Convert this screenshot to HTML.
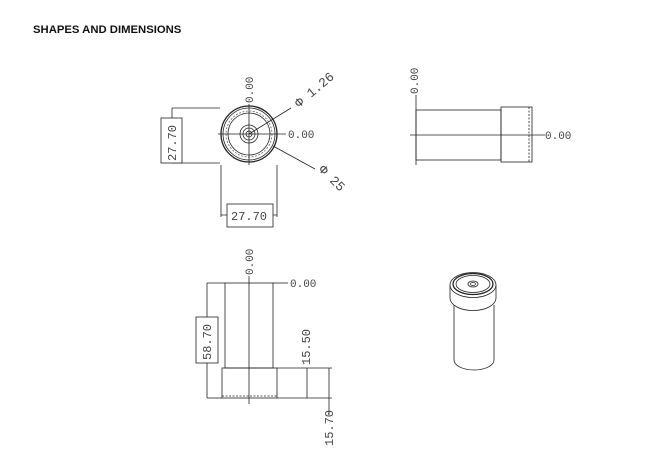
<!DOCTYPE html>
<html><head><meta charset="utf-8"><style>
html,body{margin:0;padding:0;background:#fff;width:653px;height:458px;overflow:hidden}
svg{position:absolute;left:0;top:0}
.t{font-family:"Liberation Mono","DejaVu Sans Mono",monospace;font-size:11px;fill:#444}
</style></head><body>
<svg width="653" height="458" viewBox="0 0 653 458" xmlns="http://www.w3.org/2000/svg">
<text x="33" y="33" font-family="Liberation Sans, sans-serif" font-weight="bold" font-size="11.3" fill="#111">SHAPES AND DIMENSIONS</text>
<g stroke="#222" fill="none" stroke-width="0.8">
<!-- top view -->
<circle cx="249" cy="134" r="28" stroke-width="1.3"/>
<circle cx="249" cy="134" r="26"/>
<circle cx="249" cy="134" r="23" stroke-dasharray="2 1.5" stroke="#666"/>
<circle cx="249" cy="134" r="21"/>
<circle cx="249" cy="134" r="9"/>
<circle cx="249" cy="134" r="6"/>
<circle cx="249" cy="134" r="3"/>
<line x1="249" y1="104" x2="249" y2="165"/>
<line x1="218" y1="134" x2="286" y2="134"/>
<line x1="172" y1="108" x2="220" y2="108"/>
<line x1="172" y1="163" x2="220" y2="163"/>
<line x1="172" y1="108" x2="172" y2="163"/>
<rect x="161" y="118" width="21" height="45" fill="#fff"/>
<line x1="221" y1="165" x2="221" y2="217"/>
<line x1="277" y1="165" x2="277" y2="217"/>
<line x1="221" y1="215" x2="277" y2="215"/>
<rect x="227" y="204" width="46" height="23" fill="#fff"/>
<line x1="249" y1="134" x2="291" y2="108"/>
<line x1="273" y1="146" x2="315" y2="169"/>
<!-- side view -->
<rect x="416" y="110" width="85" height="50"/>
<rect x="501" y="107" width="31" height="55"/>
<line x1="529" y1="107" x2="529" y2="162" stroke-dasharray="2 1.5"/>
<line x1="416" y1="95" x2="416" y2="165"/>
<line x1="410" y1="135" x2="545" y2="135"/>
<!-- front view -->
<rect x="225" y="283" width="48" height="85"/>
<rect x="222" y="368" width="55" height="30"/>
<line x1="222" y1="396" x2="277" y2="396" stroke-dasharray="2 1.5"/>
<line x1="249" y1="276" x2="249" y2="404"/>
<line x1="273" y1="283" x2="288" y2="283"/>
<line x1="207" y1="283" x2="225" y2="283"/>
<line x1="207" y1="398" x2="222" y2="398"/>
<line x1="207" y1="283" x2="207" y2="398"/>
<rect x="196" y="317" width="22" height="46" fill="#fff"/>
<line x1="277" y1="368" x2="332" y2="368"/>
<line x1="277" y1="398" x2="332" y2="398"/>
<line x1="307" y1="368" x2="307" y2="398"/>
<line x1="329" y1="368" x2="329" y2="415"/>
<!-- 3d -->
<path d="M450 285 V298 A23 12.5 0 0 0 496 298 V285"/>
<path d="M454 305 V360 A20 10 0 0 0 494 360 V305"/>
<ellipse cx="473" cy="285" rx="23" ry="12.5"/>
<ellipse cx="473" cy="284" rx="20" ry="10.5" stroke-width="1.3"/>
<ellipse cx="473" cy="284" rx="17" ry="8.5"/>
<ellipse cx="473" cy="284" rx="5" ry="3"/>
<ellipse cx="473" cy="284" rx="2.5" ry="1.5"/>
</g>
<g class="t">
<text transform="translate(253,103) rotate(-90)">0.00</text>
<text x="288" y="138">0.00</text>
<text transform="translate(299,108) rotate(-40)" font-size="13">Φ 1.26</text>
<text transform="translate(318,170) rotate(45)" font-size="13">Φ 25</text>
<text transform="translate(176,161) rotate(-90)" font-size="12">27.70</text>
<text x="231" y="220" font-size="12">27.70</text>
<text transform="translate(418,94) rotate(-90)">0.00</text>
<text x="545" y="139">0.00</text>
<text transform="translate(253,275) rotate(-90)">0.00</text>
<text x="290" y="287">0.00</text>
<text transform="translate(211,360) rotate(-90)" font-size="12">58.70</text>
<text transform="translate(310,365) rotate(-90)" font-size="12">15.50</text>
<text transform="translate(333,446) rotate(-90)" font-size="12">15.70</text>
</g>
</svg>
</body></html>
